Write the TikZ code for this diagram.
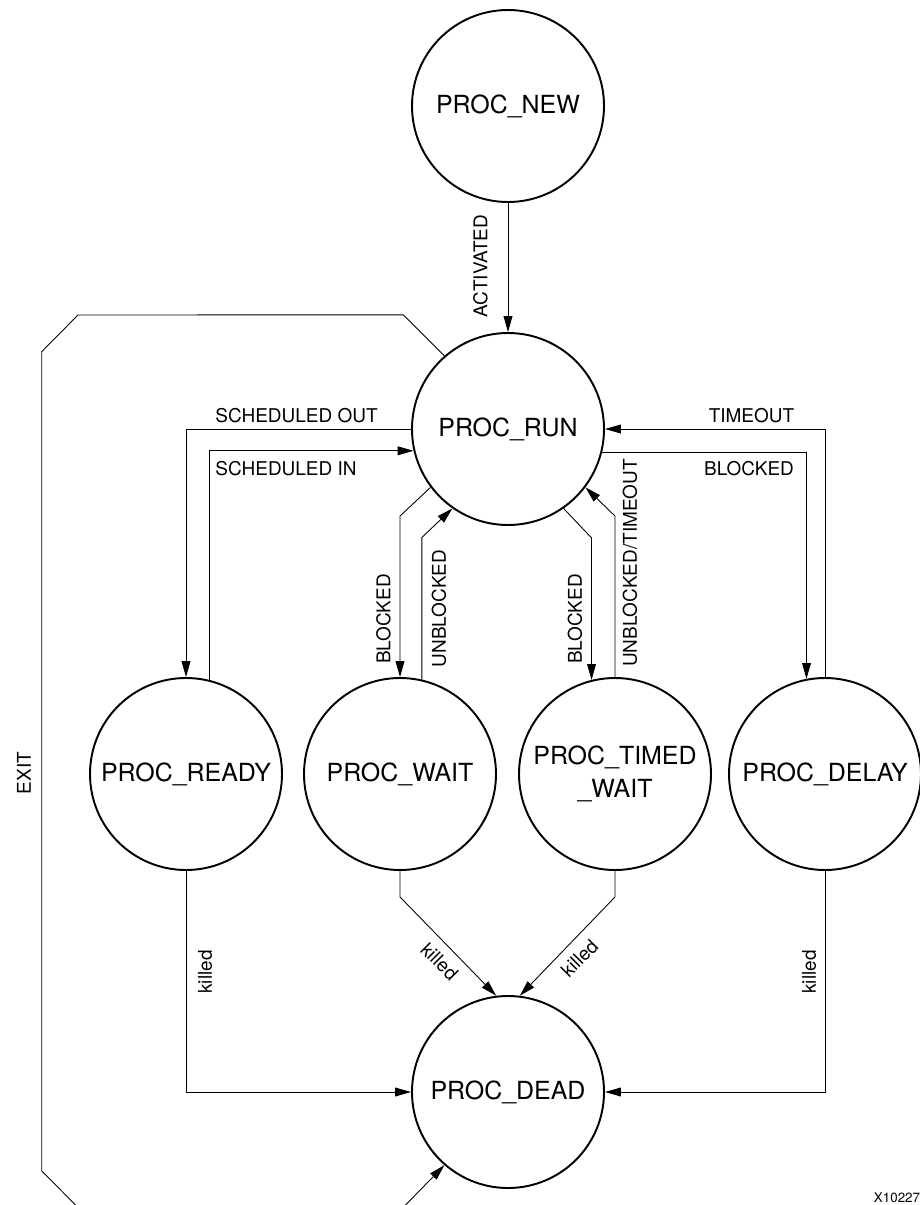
\documentclass[tikz,border=0pt]{standalone}
\usepackage{fontspec}
\setmainfont{TeX Gyre Heros}
\usepackage{tikz}
\usetikzlibrary{calc,positioning,arrows.meta,shapes}

\tikzset{
  state/.style={draw, circle, line width=1.1pt, minimum size=2*\r cm, inner sep=0pt,
    align=center, font=\fontsize{14.2}{18.8}\selectfont},
  arr/.style={-{Triangle[length=9pt,width=5pt]}, line width=0.5pt},
  lbl/.style={inner sep=0pt, font=\fontsize{10.8}{13}\selectfont}
}

\begin{document}
\begin{tikzpicture}
\def\r{1.92}
\useasboundingbox (0,0) rectangle (18.4,-24.1);

% states
\node[state] (new)   at (10.16,-2.12)  {PROC\_NEW};
\node[state] (run)   at (10.16,-8.58)  {PROC\_RUN};
\node[state] (ready) at (3.72,-15.48)  {PROC\_READY};
\node[state] (wait)  at (8.0,-15.48)   {PROC\_WAIT};
\node[state] (timed) at (12.3,-15.48)  {PROC\_TIMED\\\_WAIT};
\node[state] (delay) at (16.5,-15.48)  {PROC\_DELAY};
\node[state] (dead)  at (10.16,-21.84) {PROC\_DEAD};

% transitions
\draw[arr] (new) -- (run);
\draw[arr] (run.west) -| (ready.north);
\draw[arr] (ready.76) |- (run.193);
\draw[arr] (delay.north) |- (run.east);
\draw[arr] (run.346) -| (delay.101);
\draw[arr] (run.217) -- ([yshift=3.22cm]wait.north) -- (wait.north);
\draw[arr] (wait.77) -- ([yshift=2.84cm]wait.77) -- (run.235);
\draw[arr] (run.305) -- ([yshift=2.84cm]timed.104) -- (timed.104);
\draw[arr] (timed.north) -- ([yshift=3.22cm]timed.north) -- (run.323);
\draw[arr] (ready.south) |- (dead.west);
\draw[arr] (wait.south) -- ([yshift=-0.52cm]wait.south) -- (dead.97);
\draw[arr] (timed.south) -- ([yshift=-0.52cm]timed.south) -- (dead.83);
\draw[arr] (delay.south) |- (dead.east);
% exit runs out below the page and back in
\draw[arr] (run.131) -- ++(-0.82,0.82) -- (1.56,-6.30) -- (0.834,-7.034)
  -- (0.834,-23.42) -- (2.2,-24.79) -- (7.44,-24.79) -- (dead.229);

% labels
\path (9.61,-5.32) node[lbl, rotate=90] {ACTIVATED};
\path (5.93,-8.32) node[lbl] {SCHEDULED OUT};
\path (5.72,-9.37) node[lbl] {SCHEDULED IN};
\path (15.03,-8.32) node[lbl] {TIMEOUT};
\path (14.98,-9.38) node[lbl] {BLOCKED};
\path (7.67,-12.38) node[lbl, rotate=90] {BLOCKED};
\path (8.78,-12.17) node[lbl, rotate=90] {UNBLOCKED};
\path (11.5,-12.38) node[lbl, rotate=90] {BLOCKED};
\path (12.6,-11.26) node[lbl, rotate=90] {UNBLOCKED/TIMEOUT};
\path (0.48,-15.46) node[lbl, rotate=90] {EXIT};
\path (4.1,-19.44) node[lbl, rotate=90] {killed};
\path (8.79,-19.23) node[lbl, rotate=-45] {killed};
\path (11.59,-19.17) node[lbl, rotate=45] {killed};
\path (16.18,-19.44) node[lbl, rotate=90] {killed};
\path (17.94,-23.96) node[inner sep=0pt, font=\fontsize{7.6}{9}\selectfont] {X10227};
\end{tikzpicture}
\end{document}
